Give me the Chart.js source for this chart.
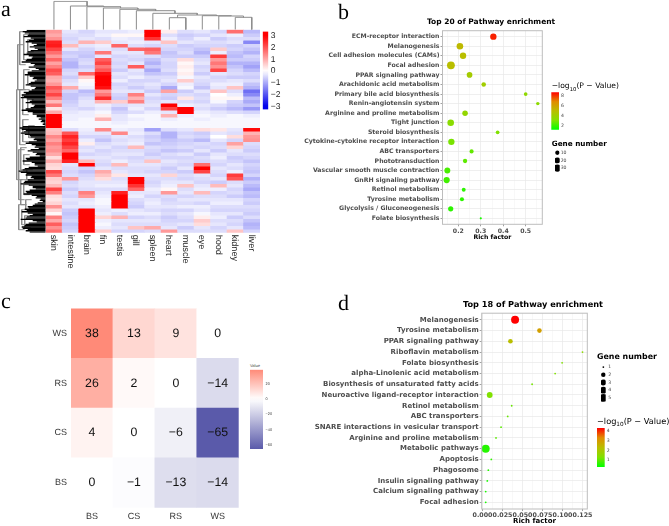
<!DOCTYPE html>
<html>
<head>
<meta charset="utf-8">
<title>Expression and pathway enrichment</title>
<script src="https://cdn.jsdelivr.net/npm/chart.js@4/dist/chart.umd.min.js"></script>
<style>
  html, body { margin: 0; padding: 0; background: #fff; }
  #page { position: relative; width: 669px; height: 526px; overflow: hidden; text-rendering: geometricPrecision; }
  #page canvas { position: absolute; }
  .txt { position: absolute; line-height: 1; white-space: nowrap; transform: translateY(-50%); }
  .panel { font-family: "Liberation Serif", serif; font-size: 22px; color: #000; }
  .head { font-family: "DejaVu Sans", sans-serif; font-weight: bold; color: #000; }
  .logt { font-family: "DejaVu Sans", sans-serif; color: #000; }
  .logt sub { font-size: 70%; line-height: 0; }
  .tiny { font-family: "Liberation Sans", sans-serif; color: #444; font-size: 4px; }
</style>
</head>
<body>
<div id="page"></div>
<script>
// panel a: heatmap, one array per tissue, one value per band (top to bottom)
const tissues = ['skin', 'intestine', 'brain', 'fin', 'testis', 'gill', 'spleen', 'heart', 'muscle', 'eye', 'hood', 'kidney', 'liver'];
const skin = [1.2,1.0,1.3,2.6,2.7,2.2,1.7,1.2,1.8,1.1, 1.5,2.1,1.9,1.0,.9,1.2,2.0,1.7,2.2,1.5, .8,1.6,.3,1.0,3.2,3.2,3.2,3.2,.7,.8, 1.4,1.1,1.5,1.2,1.3,1.0,.4,1.0,.5,.4, 2.1,1.6,.6,.5,.8,2.2,1.5,.4,.3,.5, 1.3,.5,.1,1.5,1.0,1.9,1.3,1.7];
const intestine = [-.3,-.4,-.5,-.4,.8,-.3,-.6,-.5,-.7,-.9, -.9,-.5,-.4,-.6,-.4,-.3,1.0,-.5,-.7,-.7, -.6,-.5,-.4,-.3,-.2,-.2,-.1,-.1,-.4,2.0, 2.6,2.3,2.6,2.2,1.8,3,3,2.6,-.3,-.4, -.5,-.4,1.2,-.5,-.4,-.6,-.4,-.5,-.3,-.4, -.3,-.6,-.7,-.6,-.5,-.7,-.6,-.5];
const brain = [-.5,-.4,-.3,.9,-.3,-.5,-.6,-.7,-.5,-.4, -.6,-.4,1.8,.6,.1,-.1,-.2,-.8,-.6,-.4, -.3,-.3,-.5,-.2,-.2,-.1,-.1,-.1,-.2,-.3, -.5,-.2,.2,-.4,-.3,-.5,-.3,.8,3,-.5, -.7,-.5,-.4,-.3,-.3,-.4,1.5,1.2,-.3,-.2, -.3,3,3,3,3,3,3,3];
const fin = [-.3,-.2,-.4,.6,-.2,-.3,1.6,-.3,1.9,2.2, 1.6,2.0,2.8,3,3,3,2.8,1.2,1.6,2.5, .9,-.2,-.3,-.1,.2,.9,-.1,-.1,1.4,-.3, -.5,-.7,-.4,-.3,-.5,-.4,-.3,-.4,-.5,-.3, 1.0,.7,.4,-.3,-.2,-.4,-.3,-.2,-.1,-.1, -.2,-.3,-.2,.5,-.2,-.1,-.2,.6];
const testis = [-.3,.1,-.2,-.3,1.8,-.4,-.3,-.5,-.4,-.5, -.4,-.6,-.3,-.4,-.2,-.5,-.4,-.3,-.5,-.6, .6,-.4,-.7,-.5,-.3,-.3,-.2,-.1,-.2,1.4, -.3,-.4,-.3,-.5,-.4,-.3,-.4,-.2,.8,-.4, -.3,.3,-.4,-.3,-.2,-.4,2.6,3,3,3, 3,-.2,-.4,.9,-.3,-.4,-.3,-.5];
const gill = [-.2,.1,-.3,-.2,-.4,1.8,-.3,-.4,-.5,-.3, 1.9,-.3,-.4,-.2,-.5,-.4,-.6,-.3,1.5,.9, 1.5,-.3,-.2,-.4,-.1,-.2,-.1,-.1,-.3,-.2, -.4,-.3,-.2,.8,-.4,-.3,-.5,-.4,-.3,-.4, -.4,-.3,3,3,2.4,1.8,-.3,-.2,-.4,-.5, -.6,-.3,-.2,-.5,-.3,-.4,.7,-.5];
const spleen = [3,3,2.4,-.3,-.5,1.9,1.6,-.4,-.7,-.9, -.6,-1.0,-.7,-.4,-.5,-.3,-.4,-.6,-.3,-.5, -.4,-.3,-.5,-.2,-.1,-.1,-.1,-.1,-1.1,-.4, -.6,-.5,-.7,-.4,-.5,-.6,-.4,.7,-.3,-.4, -.5,-.3,-.4,-.5,-.4,-.2,-.3,-.5,-.3,-.2, -.3,-.4,-.2,-.4,-.3,-.4,1.0,-.4];
const heart = [.2,-.4,-.2,.7,-.4,-.5,-.7,-.6,-.4,-.5, -.5,-.4,-.6,-.4,-.3,-.5,-1.0,1.1,-.5,-.6, -.3,3,2.2,-.3,.9,-.2,-.1,-.1,-.4,-.9, -.9,-.7,-.6,-.5,-.7,-.4,-.5,-.3,-.4,-.6, -.5,.5,-.4,-.3,-.2,.1,1.2,-.4,-.5,-.4, -.3,-.5,-.4,-.6,-.5,-.4,-.3,1.2];
const muscle = [-.4,-.6,-.5,-.3,-.6,-.5,-.4,-.6,.4,.1, .2,.1,.2,-.1,.6,-.2,-.1,-.6,-.4,.3, -.4,-.2,3,3,-.2,-.1,-.1,-.1,-.3,-.5, -.4,-.6,-.5,-.4,-.6,-.3,-.5,-.4,-.5,-.3, -.6,-.4,-.5,-.3,.7,-.4,-.3,-.5,-.3,-.4, -.2,-.5,-.3,-.4,-.5,-.3,-.6,-.4];
const eye = [-.3,-.5,-.2,-.4,-.5,-.7,-.9,-.6,-.4,-.3, -.5,-.4,-.6,-.3,-.4,-.5,-.7,-.3,-.5,-.4, -.5,-.3,-.4,-.2,-.1,-.2,-.1,-.1,.4,-.6, -.5,-.8,-.4,-.5,-.3,-.6,-.4,-.5,1.7,3, 2.2,-.3,-.4,-.5,-.3,-.2,.8,-.4,-.3,-.5, -.2,-.3,-.1,.2,.6,.4,-.3,-.4];
const hood = [-.5,-.3,-.6,-.4,-.5,.6,-.2,2.3,1.2,1.6, 1.3,2.2,-.3,-.5,-.4,-.2,-.3,.7,0,.1, -.1,-.4,-.6,-.3,-.2,-.1,-.1,-.1,.3,-.3, 0,-.3,-.5,-.4,-.6,-.3,-.2,-.4,-.5,-.3, -.4,-.5,-.3,-.6,.8,-.2,-.5,-.4,-.3,-.2, -.4,-.5,-.3,-.2,-.4,-.3,-.5,-.4];
const kidney = [1.7,-.2,-.4,-.3,-.6,-.5,-.7,-.8,-.6,-.9, -.7,-.5,-.4,-.6,-.3,-.2,.7,-.4,-.2,.1, -.5,-.6,-.8,-.4,-.1,-.1,-.1,-.1,-.3,-.4, .4,-.5,1.1,.5,-.3,-.4,-.6,-.5,-.3,-.4, -.2,2.3,2.0,-.4,-.3,-.5,-.4,-.6,-.3,-.2, -.4,-.5,-.3,-.6,-.4,-.5,-.3,.7];
const liver = [-.8,-.6,-.4,-1.4,-.5,-.7,-.9,-.5,-.6,-.9, -1.1,-.8,-.5,-.6,-.4,-.7,-.9,-1.7,-1.4,-.8, -1.0,-.7,-1.2,-.5,-.2,-.1,-.1,-.1,2.9,.9, 1.2,1.3,-.4,-.5,-.6,-.4,-.5,-.7,-.5,-.6, -.7,-.5,-.9,-.6,-.8,-1.0,-.7,-.8,-.5,-.6, -.4,-.5,-.6,-.4,-.7,-.9,-.8,-.5];
const heatColumns = [skin, intestine, brain, fin, testis, gill, spleen, heart, muscle, eye, hood, kidney, liver];

// column dendrogram: each merge joins a left and a right leg at some height
const topLeft = [11, 10, 9, 7, 7.5, 6, 5, 4, 3, 2, 1, 0];
const topRight = [12, 11.5, 10.75, 8, 9.875, 8.69, 7.34, 6.17, 5.09, 4.04, 3.02, 2.01];
const topHeight = [12.4, 13.7, 14, 12, 14.7, 16.4, 19, 20.4, 21.7, 23, 23.7, 28.4];
const topLeftBase = [0, 0, 0, 0, 12, 0, 0, 0, 0, 0, 0, 0];
const topRightBase = [0, 12.4, 13.7, 0, 14, 14.7, 16.4, 19, 20.4, 21.7, 23, 23.7];

// row dendrogram: depth of the dense leaf block along the rows
const leafDepth = [
    19,23,21,17,18,22,15,12,17,20, 14,9,12,16,11,8,15,18,19,22, 17,13,14,19,20,24,15,11,12,17, 10,7,14,18,18,21,16,12,13,9,
    11,15,17,20,15,10,11,14,17,22, 20,24,22,25,19,14,16,20,14,11, 12,15,20,24,18,13,13,9,9,5, 7,4,5,2,3,1,
    23,26,24,20,22,25,21,16,15,11, 12,9,17,20,14,10,11,7,15,18, 13,9,10,6,16,20,19,23,14,11, 11,8,17,21,23,27,25,19,20,14,
    15,12,18,21,22,25,17,13,13,10, 16,20,19,22,14,9,10,5,6,3, 8,11,13,18,17,21,19,24,18,13, 16,19,20,25,13,9,17,20,21,24, 23,18,20,16
];
const branchDepth = [29, 28, 26, 26, 22, 22, 23, 23, 18, 18, 18, 17, 27, 25, 25, 27, 24, 22, 22, 20, 21, 19];
const branchTop = [60, 15, 2, 60, 5, 40, 65, 90, 10, 45, 70, 96, 120, 118, 150, 175, 180, 125, 155, 170, 186, 140];
const branchBottom = [150, 60, 35, 115, 30, 60, 85, 112, 22, 55, 80, 108, 170, 140, 175, 200, 195, 135, 165, 180, 198, 150];

const heatTicks = [-3, -2, -1, 0, 1, 2, 3];

// panel b
const pathwaysB = ['ECM-receptor interaction', 'Melanogenesis', 'Cell adhesion molecules (CAMs)', 'Focal adhesion', 'PPAR signaling pathway', 'Arachidonic acid metabolism', 'Primary bile acid biosynthesis', 'Renin-angiotensin system', 'Arginine and proline metabolism', 'Tight junction', 'Steroid biosynthesis', 'Cytokine-cytokine receptor interaction', 'ABC transporters', 'Phototransduction', 'Vascular smooth muscle contraction', 'GnRH signaling pathway', 'Retinol metabolism', 'Tyrosine metabolism', 'Glycolysis / Gluconeogenesis', 'Folate biosynthesis'];
const richB = [.356, .207, .221, .167, .25, .313, .5, .554, .23, .166, .375, .169, .259, .23, .151, .148, .224, .216, .166, .3];
const logPB = [8.3, 5.2, 5, 5, 4.3, 4.2, 3.6, 3.5, 3.7, 3.4, 3.1, 3, 2.7, 2.6, 2.3, 2.2, 1.9, 1.9, 1.9, 1.6];
const genesB = [23, 25, 23, 36, 18, 11, 7, 6, 17, 25, 7, 23, 9, 10, 20, 22, 8, 9, 15, 2];
const geneLegendB = [10, 20, 30];
const logTicksB = [2, 4, 6, 8];
const richTicksB = [.2, .3, .4, .5];
const richMinorB = [.15, .25, .35, .45, .55];

// panel c
const groupsC = ['BS', 'CS', 'RS', 'WS'];
const colBS = [0, 4, 26, 38];
const colCS = [-1, 0, 2, 13];
const colRS = [-13, -6, 0, 9];
const colWS = [-14, -65, -14, 0];
const valueTicksC = [-60, -40, -20, 0, 20];

// panel d
const pathwaysD = ['Melanogenesis', 'Tyrosine metabolism', 'PPAR signaling pathway', 'Riboflavin metabolism', 'Folate biosynthesis', 'alpha-Linolenic acid metabolism', 'Biosynthesis of unsaturated fatty acids', 'Neuroactive ligand-receptor interaction', 'Retinol metabolism', 'ABC transporters', 'SNARE interactions in vesicular transport', 'Arginine and proline metabolism', 'Metabolic pathways', 'Apoptosis', 'Phagosome', 'Insulin signaling pathway', 'Calcium signaling pathway', 'Focal adhesion'];
const richD = [.0407, .0712, .0349, .125, .0995, .0908, .062, .009, .0365, .0315, .0232, .0169, .004, .011, .0073, .006, .004, .004];
const logPD = [4.3, 2.9, 2.3, 1.5, 1.3, 1.3, 1.2, 1.3, 1.1, 1.1, 1, 1, .6, .7, .6, .5, .5, .5];
const genesD = [5, 2, 2, 1, 1, 1, 1, 3, 1, 1, 1, 1, 5, 1, 1, 1, 1, 1];
const geneLegendD = [1, 2, 3, 4, 5];
const logTicksD = [1, 2, 3, 4];
const richTicksD = [0, .025, .05, .075, .1, .125];
const richMinorD = [.0125, .0375, .0625, .0875, .1125];

const page = document.getElementById('page');
const TICK_GREY = '#4d4d4d';
const radiusD = [0, .9, 2.3, 2.9, 3.4, 4];
const radiusB = n => .62 * Math.sqrt(n) + .2;

// small text must not snap to whole pixel advances
Chart.register({
    id: 'preciseText',
    beforeDraw(chart) { chart.ctx.textRendering = 'geometricPrecision'; }
});

// keeps the plot area at a known place on the page, whatever the tick labels need
function addCanvas(plot, pad) {
    const left = Math.floor(plot.x - pad.l);
    const top = Math.floor(plot.y - pad.t);
    const width = Math.ceil(plot.x - left + plot.w + pad.r);
    const height = Math.ceil(plot.y - top + plot.h + pad.b);
    const canvas = document.createElement('canvas');
    canvas.width = width;
    canvas.height = height;
    canvas.style.left = left + 'px';
    canvas.style.top = top + 'px';
    canvas.style.width = width + 'px';
    canvas.style.height = height + 'px';
    page.appendChild(canvas);
    return {
        canvas,
        l: plot.x - left,
        t: plot.y - top,
        r: width - (plot.x - left) - plot.w,
        b: height - (plot.y - top) - plot.h
    };
}

function baseOptions(padding) {
    return {
        responsive: false,
        animation: false,
        events: [],
        layout: { padding },
        plugins: { legend: { display: false }, tooltip: { enabled: false } }
    };
}

function addText(html, x, y, cls, size) {
    const el = document.createElement('div');
    el.className = 'txt ' + cls;
    el.innerHTML = html;
    el.style.left = x + 'px';
    el.style.top = y + 'px';
    if (size) el.style.fontSize = size + 'px';
    page.appendChild(el);
    return el;
}

function mix(a, b, t) {
    return a.map((v, i) => Math.round(v + (b[i] - v) * t));
}

function heatColor(v) {
    const t = Math.min(1, Math.abs(v) / 3);
    const c = v >= 0 ? mix([255, 255, 255], [255, 0, 0], t) : mix([255, 255, 255], [0, 0, 235], t);
    return `rgb(${c})`;
}

function tileColor(v) {
    const c = v >= 0 ? mix([255, 255, 255], [255, 138, 120], v / 38) : mix([255, 255, 255], [90, 90, 170], -v / 65);
    return `rgb(${c})`;
}

// green to red the way the enrichment plots go through ochre
const rampStops = [[0, 255, 0], [130, 225, 0], [185, 190, 0], [225, 140, 0], [255, 0, 0]];
function rampColor(t) {
    const p = Math.max(0, Math.min(.9999, t)) * (rampStops.length - 1);
    const i = Math.floor(p);
    return `rgb(${mix(rampStops[i], rampStops[i + 1], p - i)})`;
}

// vertical colour key: one floating bar filled with a gradient, ticks on the right
function colorBar(plot, min, max, colorOf, ticks, font, tickPad) {
    const box = addCanvas(plot, { l: 0, t: 5, r: 22, b: 5 });
    const options = baseOptions({ top: box.t, bottom: box.b, left: box.l, right: 0 });
    options.scales = {
        x: { display: false },
        y: {
            position: 'right',
            min, max,
            border: { display: false },
            grid: { display: false, drawTicks: false },
            afterBuildTicks: s => { s.ticks = ticks.map(value => ({ value })); },
            afterFit: s => { s.width = box.r; },
            ticks: {
                autoSkip: false,
                padding: tickPad,
                font,
                color: font.color,
                callback: v => String(v).replace('-', '−')
            }
        }
    };
    new Chart(box.canvas, {
        type: 'bar',
        data: {
            labels: ['key'],
            datasets: [{
                data: [[min, max]],
                barPercentage: 1,
                categoryPercentage: 1,
                backgroundColor: ctx => {
                    const a = ctx.chart.chartArea;
                    if (!a) return 'transparent';
                    const g = ctx.chart.ctx.createLinearGradient(0, a.bottom, 0, a.top);
                    for (let i = 0; i <= 20; i++) g.addColorStop(i / 20, colorOf(min + (max - min) * i / 20));
                    return g;
                }
            }]
        },
        options
    });
}

const frame = {
    id: 'frame',
    afterDatasetsDraw(chart) {
        const { ctx, chartArea: a } = chart;
        ctx.save();
        ctx.strokeStyle = '#bdbdbd';
        ctx.lineWidth = 1;
        ctx.strokeRect(a.left, a.top, a.width, a.height);
        ctx.restore();
    }
};

function dotPlot(plot, pad, names, rich, radii, colors, xMin, xMax, ticks, minor, digits, fontSize, xFontSize) {
    const box = addCanvas(plot, pad);
    const options = baseOptions({ top: box.t, right: box.r, left: 0, bottom: 0 });
    const tickFont = { family: 'DejaVu Sans', weight: 'bold', size: fontSize };
    options.scales = {
        x: {
            min: xMin, max: xMax,
            border: { display: false },
            grid: {
                color: c => (c.tick && minor.includes(c.tick.value)) ? '#f5f5f5' : '#e8e8e8',
                lineWidth: .7,
                tickLength: 2,
                tickColor: c => (c.tick && minor.includes(c.tick.value)) ? 'transparent' : '#777'
            },
            afterBuildTicks: s => { s.ticks = ticks.concat(minor).map(value => ({ value })); },
            afterFit: s => { s.height = box.b; },
            ticks: {
                autoSkip: false, maxRotation: 0, minRotation: 0, padding: 1,
                font: { ...tickFont, size: xFontSize }, color: TICK_GREY,
                callback: v => minor.includes(v) ? '' : v.toFixed(digits)
            },
            title: {
                display: true, text: 'Rich factor', color: '#000', padding: { top: 0, bottom: 1 },
                font: tickFont
            }
        },
        y: {
            reverse: true,
            min: -.62, max: names.length - .38,
            border: { display: false },
            grid: { color: '#e8e8e8', lineWidth: .7, tickLength: 2, tickColor: '#777' },
            afterBuildTicks: s => { s.ticks = names.map((n, i) => ({ value: i })); },
            afterFit: s => { s.width = box.l; },
            ticks: {
                autoSkip: false, padding: 1,
                font: tickFont, color: TICK_GREY,
                callback: v => names[v]
            }
        }
    };
    new Chart(box.canvas, {
        type: 'bubble',
        data: {
            datasets: [{
                data: names.map((n, i) => ({ x: rich[i], y: i, r: radii[i] })),
                backgroundColor: colors,
                borderWidth: 0
            }]
        },
        options,
        plugins: [frame]
    });
}

// "Gene number" key: black dots on a small discrete axis
function sizeKey(plot, values, radii, tickPad) {
    const box = addCanvas(plot, { l: 0, t: 4, r: 14, b: 4 });
    const options = baseOptions({ top: box.t, bottom: box.b, left: box.l, right: 0 });
    options.scales = {
        x: { display: false, min: 0, max: 1 },
        y: {
            position: 'right', reverse: true,
            min: -.5, max: values.length - .5,
            border: { display: false },
            grid: { display: false, drawTicks: false },
            afterBuildTicks: s => { s.ticks = values.map((v, i) => ({ value: i })); },
            afterFit: s => { s.width = box.r; },
            ticks: {
                autoSkip: false, padding: tickPad,
                font: { family: 'DejaVu Sans', size: 4.6 }, color: '#444',
                callback: v => values[v]
            }
        }
    };
    new Chart(box.canvas, {
        type: 'bubble',
        data: {
            datasets: [{
                data: values.map((v, i) => ({ x: .5, y: i, r: radii[i] })),
                backgroundColor: '#000',
                borderWidth: 0
            }]
        },
        options
    });
}

// ---- panel a ----
const heatBox = { x: 45.7, y: 29.7, w: 214.3, h: 203 };
const heatCanvas = addCanvas(heatBox, { l: 0, t: 0, r: 0, b: 42 });
heatCanvas.canvas.style.filter = 'blur(.4px)';
const heatDatasets = skin.map((_, row) => ({
    data: tissues.map(() => 1),
    backgroundColor: heatColumns.map(col => heatColor(col[row])),
    barPercentage: 1,
    categoryPercentage: 1,
    borderWidth: 0
}));
const heatOptions = baseOptions({ top: heatCanvas.t, left: heatCanvas.l, right: heatCanvas.r, bottom: heatCanvas.b });
heatOptions.scales = {
    x: { display: false, stacked: true },
    y: { display: false, stacked: true, reverse: true, min: 0, max: skin.length }
};
new Chart(heatCanvas.canvas, {
    type: 'bar',
    data: { labels: tissues, datasets: heatDatasets },
    options: heatOptions,
    plugins: [{
        // tissue names read downwards, which the axis cannot do by itself
        id: 'downLabels',
        afterDraw(chart) {
            const { ctx, chartArea: a, scales } = chart;
            ctx.save();
            ctx.fillStyle = '#222';
            ctx.font = '9.1px "Liberation Sans"';
            ctx.textBaseline = 'middle';
            tissues.forEach((t, i) => {
                ctx.save();
                ctx.translate(scales.x.getPixelForValue(i) - .4, a.bottom + 2);
                ctx.rotate(Math.PI / 2);
                ctx.fillText(t, 0, 0);
                ctx.restore();
            });
            ctx.restore();
        }
    }]
});

const treeLine = { borderColor: '#8c8c8c', borderWidth: 1, pointRadius: 0, showLine: true, fill: false, tension: 0 };

const topBox = { x: 45.7, y: .7, w: 214.3, h: 29 };
const topCanvas = addCanvas(topBox, { l: 0, t: 0, r: 0, b: 0 });
const topOptions = baseOptions({ top: topCanvas.t, left: topCanvas.l, right: topCanvas.r, bottom: topCanvas.b });
topOptions.scales = { x: { display: false, min: -.5, max: 12.5 }, y: { display: false, min: 0, max: 29 } };
new Chart(topCanvas.canvas, {
    type: 'scatter',
    data: {
        datasets: topLeft.map((l, i) => ({
            ...treeLine,
            data: [
                { x: l, y: topLeftBase[i] }, { x: l, y: topHeight[i] },
                { x: topRight[i], y: topHeight[i] }, { x: topRight[i], y: topRightBase[i] }
            ]
        }))
    },
    options: topOptions
});

const sideBox = { x: 8, y: 29.7, w: 37.7, h: 203 };
const sideCanvas = addCanvas(sideBox, { l: 0, t: 0, r: 0, b: 0 });
const sideOptions = baseOptions({ top: sideCanvas.t, left: sideCanvas.l, right: sideCanvas.r, bottom: sideCanvas.b });
sideOptions.scales = {
    x: { display: false, reverse: true, min: 0, max: 37.7 },
    y: { display: false, reverse: true, min: 0, max: 203 }
};
const rowStep = 203 / leafDepth.length;
new Chart(sideCanvas.canvas, {
    type: 'scatter',
    data: {
        datasets: [
            ...leafDepth.map((d, i) => ({
                showLine: true, pointRadius: 0, borderColor: '#000', borderWidth: rowStep + .1,
                data: [{ x: d, y: (i + .5) * rowStep }, { x: 0, y: (i + .5) * rowStep }]
            })),
            ...branchDepth.map((d, i) => ({
                ...treeLine,
                data: [
                    { x: d - 6, y: branchTop[i] }, { x: d, y: branchTop[i] },
                    { x: d, y: branchBottom[i] }, { x: d - 6, y: branchBottom[i] }
                ]
            }))
        ]
    },
    options: sideOptions
});

colorBar({ x: 262.7, y: 29.7, w: 5.6, h: 82 }, -3.28, 3.37, heatColor, heatTicks,
    { family: 'Liberation Sans', size: 8.5, color: '#222' }, 2.4);

// ---- panel b ----
dotPlot({ x: 442.5, y: 29.5, w: 99.8, h: 194.8 }, { l: 140, t: 3, r: 10, b: 17 },
    pathwaysB, richB, genesB.map(radiusB), logPB.map(v => rampColor((v - 1.26) / 7.48)),
    .1295, .574, richTicksB, richMinorB, 1, 6.2, 6.2);
addText('Top 20 of Pathway enrichment', 427, 22, 'head', 7.5);
addText('−log<sub>10</sub>(P − Value)', 551.7, 86, 'logt', 7.6);
colorBar({ x: 551.3, y: 92.3, w: 7.7, h: 37.4 }, 1.26, 8.74, v => rampColor((v - 1.26) / 7.48), logTicksB,
    { family: 'DejaVu Sans', size: 4.6, color: '#444' }, 2);
addText('Gene number', 551.7, 144, 'head', 7.25);
sizeKey({ x: 551.7, y: 148.9, w: 8, h: 23 }, geneLegendB, geneLegendB.map(radiusB), 1);

// ---- panel c ----
const tileBox = { x: 71, y: 303.7, w: 167.7, h: 204 };
const tileCanvas = addCanvas(tileBox, { l: 30, t: 4, r: 6, b: 14 });
const tileColumns = [colBS, colCS, colRS, colWS];
const tileOptions = baseOptions({ top: tileCanvas.t, right: tileCanvas.r, left: 0, bottom: 0 });
const tileFont = { family: 'Liberation Sans', size: 9 };
tileOptions.scales = {
    x: {
        stacked: true,
        border: { display: false },
        grid: { display: false, drawTicks: false },
        afterFit: s => { s.height = tileCanvas.b; },
        ticks: { font: tileFont, color: '#333', padding: 3, maxRotation: 0 }
    },
    y: {
        stacked: true, min: 0, max: groupsC.length,
        border: { display: false },
        grid: { display: false, drawTicks: false },
        afterBuildTicks: s => { s.ticks = groupsC.map((g, i) => ({ value: i + .5 })); },
        afterFit: s => { s.width = tileCanvas.l; },
        ticks: { font: tileFont, color: '#333', padding: 4, autoSkip: false, callback: v => groupsC[v - .5] }
    }
};
new Chart(tileCanvas.canvas, {
    type: 'bar',
    data: {
        labels: groupsC,
        datasets: groupsC.map((g, row) => ({
            data: groupsC.map(() => 1),
            values: tileColumns.map(col => col[row]),
            backgroundColor: tileColumns.map(col => tileColor(col[row])),
            barPercentage: 1,
            categoryPercentage: 1,
            borderWidth: 0
        }))
    },
    options: tileOptions,
    plugins: [{
        id: 'tileValues',
        afterDatasetsDraw(chart) {
            const { ctx } = chart;
            ctx.save();
            ctx.fillStyle = '#111';
            ctx.font = '12.3px "Liberation Sans"';
            ctx.textAlign = 'center';
            ctx.textBaseline = 'middle';
            chart.data.datasets.forEach((ds, r) => {
                chart.getDatasetMeta(r).data.forEach((bar, c) => {
                    const mid = bar.getCenterPoint();
                    ctx.fillText(String(ds.values[c]).replace('-', '−'), mid.x, mid.y);
                });
            });
            ctx.restore();
        }
    }]
});
addText('Value', 250, 365.5, 'tiny');
colorBar({ x: 250, y: 369.7, w: 13, h: 79.3 }, -65, 38, tileColor, valueTicksC,
    { family: 'Liberation Sans', size: 3.8, color: '#444' }, 2.6);

// ---- panel d ----
dotPlot({ x: 481.7, y: 311.7, w: 105.6, h: 197.3 }, { l: 170, t: 3, r: 12, b: 17 },
    pathwaysD, richD, genesD.map(n => radiusD[n]), logPD.map(v => rampColor((v - .32) / 3.95)),
    -.001, .131, richTicksD, richMinorD, 3, 7, 6.3);
addText('Top 18 of Pathway enrichment', 463, 304, 'head', 8.2);
addText('Gene number', 597, 356.7, 'head', 7.9);
sizeKey({ x: 597.7, y: 362, w: 8, h: 40.4 }, geneLegendD, geneLegendD.map(n => radiusD[n]), 2.5);
addText('−log<sub>10</sub>(P − Value)', 597, 421, 'logt', 8.2);
colorBar({ x: 597, y: 428, w: 7.7, h: 39 }, .32, 4.27, v => rampColor((v - .32) / 3.95), logTicksD,
    { family: 'DejaVu Sans', size: 4.6, color: '#444' }, 2);

addText('a', 1, 9, 'panel');
addText('b', 338, 12, 'panel');
addText('c', 1, 301, 'panel');
addText('d', 338, 303, 'panel');
</script>
</body>
</html>
